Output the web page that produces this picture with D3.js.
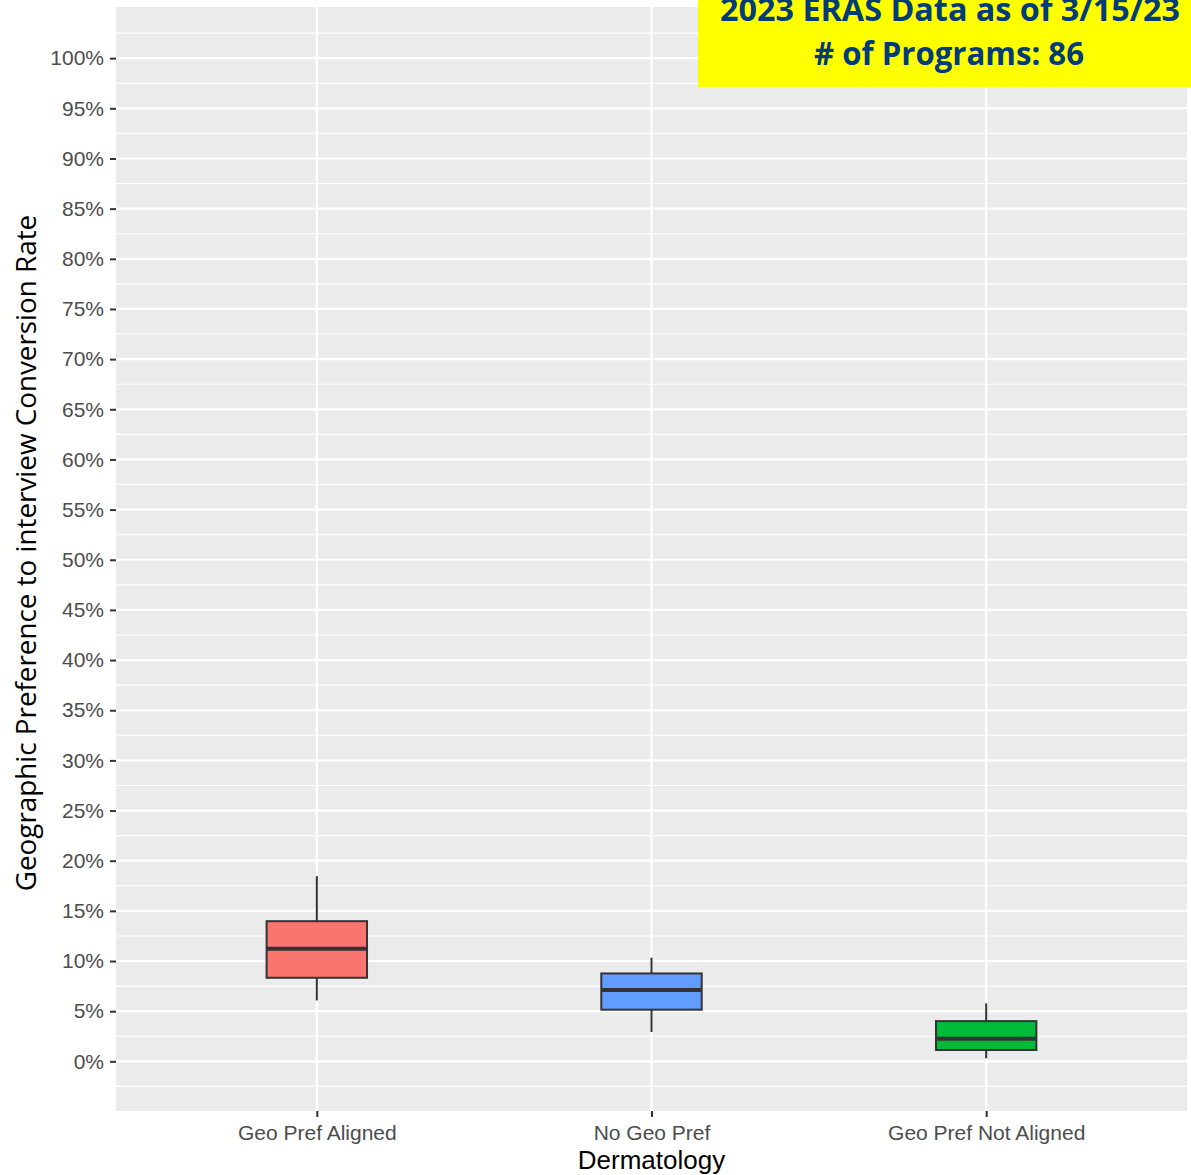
<!DOCTYPE html>
<html>
<head>
<meta charset="utf-8">
<script src="https://cdn.jsdelivr.net/npm/d3@7"></script>
<style>
  html, body { margin: 0; padding: 0; background: #fff; }
  svg { display: block; }
</style>
</head>
<body>
<svg id="chart" width="1191" height="1175"></svg>
<script>
// ---- data ----
const categories = ["Geo Pref Aligned", "No Geo Pref", "Geo Pref Not Aligned"];
const whiskerLow = [6.07, 2.92, 0.3];
const q1 = [8.33, 5.15, 1.13];
const median = [11.22, 7.1, 2.26];
const q3 = [13.97, 8.76, 4.01];
const whiskerHigh = [18.46, 10.33, 5.78];
const fills = ["#F8766D", "#619CFF", "#00BA38"];
const yTicks = [0, 5, 10, 15, 20, 25, 30, 35, 40, 45, 50, 55, 60, 65, 70, 75, 80, 85, 90, 95, 100];
const yMinor = [-2.5, 2.5, 7.5, 12.5, 17.5, 22.5, 27.5, 32.5, 37.5, 42.5, 47.5, 52.5, 57.5, 62.5, 67.5, 72.5, 77.5, 82.5, 87.5, 92.5, 97.5, 102.5];
const xTitle = "Dermatology";
const yTitle = "Geographic Preference to interview Conversion Rate";
const annotation = ["2023 ERAS Data as of 3/15/23", "# of Programs: 86"];

// ---- layout ----
const panel = { left: 116, right: 1187, top: 7, bottom: 1111 };
const svg = d3.select("#chart");

const y = d3.scaleLinear().domain([-4.95, 105.1]).range([panel.bottom, panel.top]);
// discrete axis with ggplot-like 0.6 expansion
const x = d3.scaleLinear().domain([0.4, 3.6]).range([panel.left, panel.right]);
const xPos = i => x(i + 1);
const unit = x(2) - x(1);
const boxW = 0.3 * unit;

// panel background
svg.append("rect")
  .attr("x", panel.left).attr("y", panel.top)
  .attr("width", panel.right - panel.left).attr("height", panel.bottom - panel.top)
  .attr("fill", "#EBEBEB");

const grid = svg.append("g");
grid.selectAll(".minor").data(yMinor).join("line")
  .attr("x1", panel.left).attr("x2", panel.right)
  .attr("y1", d => y(d)).attr("y2", d => y(d))
  .attr("stroke", "#fff").attr("stroke-width", 1.1);
grid.selectAll(".major").data(yTicks).join("line")
  .attr("x1", panel.left).attr("x2", panel.right)
  .attr("y1", d => y(d)).attr("y2", d => y(d))
  .attr("stroke", "#fff").attr("stroke-width", 2.2);
grid.selectAll(".vmajor").data(categories).join("line")
  .attr("x1", (d, i) => xPos(i)).attr("x2", (d, i) => xPos(i))
  .attr("y1", panel.top).attr("y2", panel.bottom)
  .attr("stroke", "#fff").attr("stroke-width", 2.2);

// y axis
const yAxis = d3.axisLeft(y).tickValues(yTicks).tickFormat(d => d + "%").tickSize(6).tickPadding(6);
const gy = svg.append("g").attr("transform", `translate(${panel.left},0)`).call(yAxis);
gy.select(".domain").remove();
gy.selectAll(".tick line").attr("stroke", "#333").attr("stroke-width", 2);
gy.selectAll(".tick text").attr("fill", "#4D4D4D")
  .style("font-family", "'Liberation Sans', Arial, sans-serif").style("font-size", "21px");

// x axis
const xAxis = d3.axisBottom(x).tickValues([1, 2, 3]).tickFormat(d => categories[d - 1]).tickSize(6).tickPadding(8);
const gx = svg.append("g").attr("transform", `translate(0,${panel.bottom})`).call(xAxis);
gx.select(".domain").remove();
gx.selectAll(".tick line").attr("stroke", "#333").attr("stroke-width", 2);
gx.selectAll(".tick text").attr("fill", "#4D4D4D")
  .style("font-family", "'Liberation Sans', Arial, sans-serif").style("font-size", "21px");

// boxes
const boxes = svg.append("g");
categories.forEach((c, i) => {
  const cx = xPos(i);
  const g = boxes.append("g");
  g.append("line").attr("x1", cx).attr("x2", cx)
    .attr("y1", y(whiskerHigh[i])).attr("y2", y(q3[i]))
    .attr("stroke", "#333").attr("stroke-width", 2);
  g.append("line").attr("x1", cx).attr("x2", cx)
    .attr("y1", y(q1[i])).attr("y2", y(whiskerLow[i]))
    .attr("stroke", "#333").attr("stroke-width", 2);
  g.append("rect")
    .attr("x", cx - boxW / 2).attr("y", y(q3[i]))
    .attr("width", boxW).attr("height", y(q1[i]) - y(q3[i]))
    .attr("fill", fills[i]).attr("stroke", "#333").attr("stroke-width", 2);
  g.append("line").attr("x1", cx - boxW / 2).attr("x2", cx + boxW / 2)
    .attr("y1", y(median[i])).attr("y2", y(median[i]))
    .attr("stroke", "#333").attr("stroke-width", 4);
});

// axis titles
svg.append("text")
  .attr("x", (panel.left + panel.right) / 2).attr("y", 1169)
  .attr("text-anchor", "middle").attr("fill", "#000")
  .style("font-family", "'Liberation Sans', Arial, sans-serif").style("font-size", "26px")
  .text(xTitle);

svg.append("text")
  .attr("transform", `translate(36,${(216 + 890) / 2}) rotate(-90)`)
  .attr("text-anchor", "middle").attr("fill", "#000")
  .style("font-family", "'Open Sans', sans-serif").style("font-size", "27.8px")
  .text(yTitle);

// annotation box
svg.append("rect").attr("x", 698).attr("y", 0).attr("width", 493).attr("height", 87).attr("fill", "#FFFF00");
const ann = svg.append("g")
  .style("font-family", "'Open Sans', sans-serif").style("font-weight", "bold")
  .attr("fill", "#003B7A").attr("text-anchor", "middle");
ann.append("text").attr("x", 950).attr("y", 21).style("font-size", "32px")
  .attr("textLength", 460).attr("lengthAdjust", "spacingAndGlyphs").text(annotation[0]);
ann.append("text").attr("x", 949).attr("y", 65).style("font-size", "32px")
  .attr("textLength", 270).attr("lengthAdjust", "spacingAndGlyphs").text(annotation[1]);
</script>
</body>
</html>
